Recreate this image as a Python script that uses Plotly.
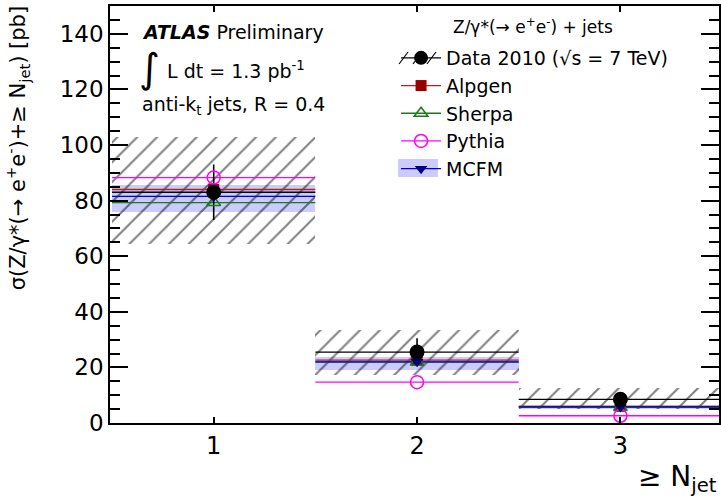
import plotly.graph_objects as go

# ---- data ----
n_jet = [1, 2, 3]
bin_lo = [0.5, 1.5, 2.5]
bin_hi = [1.5, 2.5, 3.5]
tick_labels = ["1", "2", "3"]

data_val = [83.0, 25.5, 8.5]
data_stat = [10.0, 5.0, 2.5]
data_sys_lo = [64.5, 17.2, 5.0]
data_sys_hi = [103.0, 33.4, 12.6]

alpgen = [84.0, 22.6, 6.0]
sherpa = [79.3, 21.9, 5.6]
pythia = [88.3, 14.7, 2.6]
mcfm = [81.5, 22.0, 5.8]
mcfm_lo = [75.9, 19.0, 5.0]
mcfm_hi = [85.7, 23.7, 6.6]

W, H = 721, 498
L, R, T, B = 110, 0, 6, 75
FONT = "DejaVu Sans"

def steps(vals):
    xs, ys = [], []
    for lo, hi, v in zip(bin_lo, bin_hi, vals):
        xs += [lo, hi, None]
        ys += [v, v, None]
    return xs, ys

def px(xp):
    return (xp - L) / (W - L - R)

def py(yp):
    return (H - B - yp) / (H - B - T)

fig = go.Figure()

# MCFM band
fig.add_trace(go.Bar(
    x=n_jet, y=[h - l for h, l in zip(mcfm_hi, mcfm_lo)], base=mcfm_lo, width=1.0,
    marker=dict(color="rgba(160,160,255,0.55)", line=dict(width=0)),
    showlegend=False, hoverinfo="skip"))

# Data systematic hatch
fig.add_trace(go.Bar(
    x=n_jet, y=[h - l for h, l in zip(data_sys_hi, data_sys_lo)], base=data_sys_lo, width=1.0,
    marker=dict(color="rgba(0,0,0,0)", line=dict(width=0),
                pattern=dict(shape="/", fgcolor="#000000", bgcolor="rgba(0,0,0,0)",
                             size=14, solidity=0.14)),
    showlegend=False, hoverinfo="skip"))

series = [
    ("Alpgen", alpgen, "#b22222", dict(symbol="square", size=11, color="#990000")),
    ("Sherpa", sherpa, "#1a7a1a", dict(symbol="triangle-up-open", size=12, color="#1a7a1a", line=dict(width=1.5))),
    ("Pythia", pythia, "#ff00ff", dict(symbol="circle-open", size=13, color="#ff00ff", line=dict(width=1.5))),
    ("MCFM", mcfm, "#0000cc", dict(symbol="triangle-down", size=11, color="#000080")),
]

# step lines
xs, ys = steps(data_val)
fig.add_trace(go.Scatter(x=xs, y=ys, mode="lines", line=dict(color="black", width=1.3),
                         showlegend=False, hoverinfo="skip"))
for name, vals, col, mk in series:
    xs, ys = steps(vals)
    fig.add_trace(go.Scatter(x=xs, y=ys, mode="lines", line=dict(color=col, width=1.3),
                             showlegend=False, hoverinfo="skip"))

# data statistical error bars
fig.add_trace(go.Scatter(x=n_jet, y=data_val, mode="markers",
                         marker=dict(symbol="circle", size=1, color="black"),
                         error_y=dict(type="data", array=data_stat, color="black", thickness=1.6, width=0),
                         showlegend=False, hoverinfo="skip"))
# MC markers
for name, vals, col, mk in series:
    fig.add_trace(go.Scatter(x=n_jet, y=vals, mode="markers", name=name,
                             marker=mk, showlegend=False))
# data marker on top
fig.add_trace(go.Scatter(x=n_jet, y=data_val, mode="markers", name="Data",
                         marker=dict(symbol="circle", size=15, color="black"),
                         showlegend=False))

# legend entries
fig.add_trace(go.Scatter(x=[None], y=[None], mode="lines+markers", name="Data 2010 (√s = 7 TeV)",
                         line=dict(color="black", width=1.3),
                         marker=dict(symbol="circle", size=14, color="black")))
for name, vals, col, mk in series:
    fig.add_trace(go.Scatter(x=[None], y=[None], mode="lines+markers", name=name,
                             marker=mk, line=dict(color=col, width=1.3)))

fig.update_layout(
    width=W, height=H,
    margin=dict(l=L, r=R, t=T, b=B),
    paper_bgcolor="white", plot_bgcolor="white",
    barmode="overlay", bargap=0,
    font=dict(family=FONT, color="black", size=19),
    legend=dict(x=px(397), y=py(39), xanchor="left", yanchor="top",
                bgcolor="rgba(0,0,0,0)", font=dict(size=19, family=FONT),
                itemwidth=40, tracegroupgap=0),
    xaxis=dict(range=[0.49, 3.485], tickvals=n_jet, ticktext=tick_labels,
               ticks="inside", ticklen=6, tickwidth=1.5, tickcolor="black",
               showline=True, linecolor="black", linewidth=1.5, mirror="ticks",
               showgrid=False, zeroline=False, tickfont=dict(size=24, family=FONT)),
    yaxis=dict(range=[0, 150], dtick=20, tick0=0,
               ticks="inside", ticklen=18, tickwidth=1.5, tickcolor="black",
               minor=dict(dtick=5, ticks="inside", ticklen=10, tickwidth=1.5, tickcolor="black"),
               showline=True, linecolor="black", linewidth=1.5, mirror="ticks",
               showgrid=False, zeroline=False, tickfont=dict(size=23, family=FONT)),
)

# MCFM band swatch behind its legend symbol
fig.add_shape(type="rect", xref="paper", yref="paper", layer="below",
              x0=px(399), x1=px(439), y0=py(177), y1=py(159),
              fillcolor="rgba(160,160,255,0.55)", line=dict(width=0))
# hatch strokes on the data legend symbol
for x0 in (400, 414, 428):
    fig.add_shape(type="line", xref="paper", yref="paper",
                  x0=px(x0), x1=px(x0 + 9), y0=py(64), y1=py(52),
                  line=dict(color="black", width=1.2))

ann = [
    dict(x=px(140), y=py(32), text="<b><i>ATLAS</i></b> Preliminary", font=dict(size=19), xanchor="left"),
    dict(x=px(137), y=py(68), text="∫", font=dict(size=40), xanchor="left"),
    dict(x=px(165), y=py(70), text="L dt = 1.3 pb<sup>-1</sup>", font=dict(size=19), xanchor="left"),
    dict(x=px(140), y=py(106), text="anti-k<sub>t</sub> jets, R = 0.4", font=dict(size=19), xanchor="left"),
    dict(x=px(452), y=py(26), text="Z/γ*(→ e<sup>+</sup>e<sup>-</sup>) + jets", font=dict(size=17), xanchor="left"),
    dict(x=px(721), y=py(478), text="≥ N<sub>jet</sub>", font=dict(size=28), xanchor="right"),
    dict(x=px(17), y=py(4), text="σ(Z/γ*(→ e<sup>+</sup>e<sup>-</sup>)+≥ N<sub>jet</sub>) [pb]",
         font=dict(size=21), textangle=-90, xanchor="center", yanchor="top"),
]
for a in ann:
    a.setdefault("yanchor", "middle")
    fig.add_annotation(xref="paper", yref="paper", showarrow=False, **a)

fig.write_html("out.html")
